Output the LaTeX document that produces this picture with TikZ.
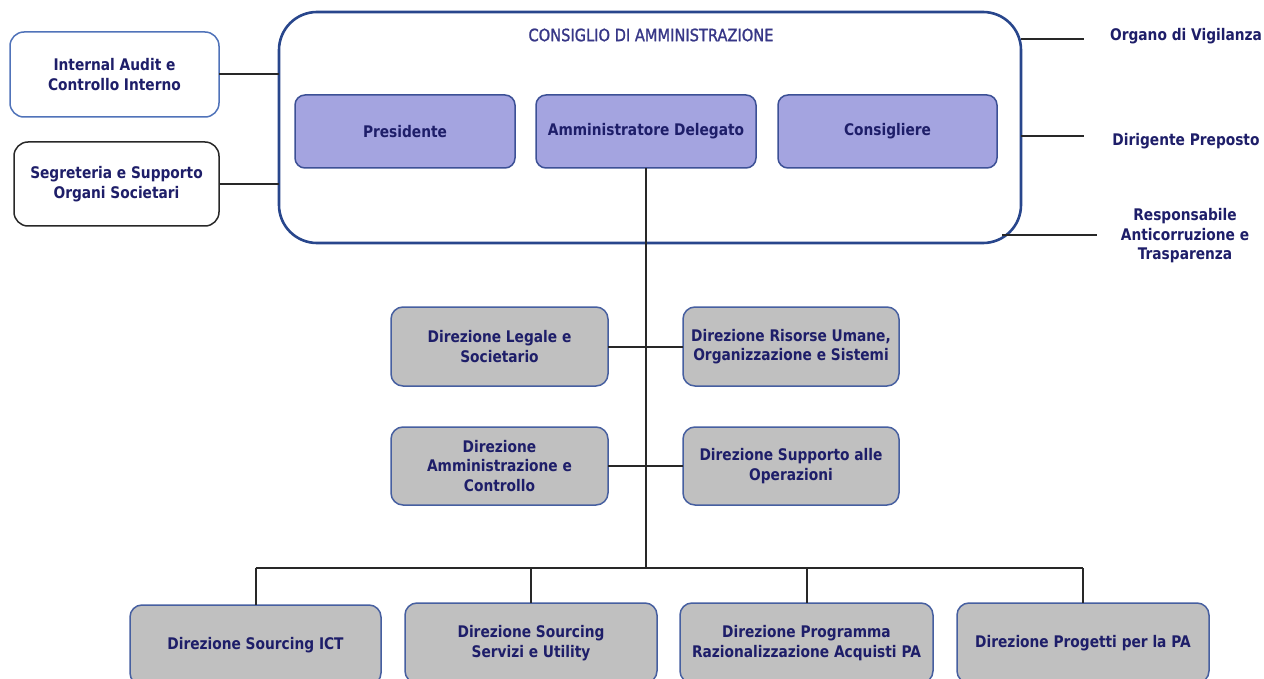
\documentclass[tikz,border=0pt]{standalone}
\usepackage{fontspec}
\setmainfont{DejaVu Sans}[FakeStretch=0.86]
\newfontfamily\titlefont{DejaVu Sans}[FakeStretch=0.86,FakeBold=1.2]
\definecolor{txt}{RGB}{30,30,105}
\definecolor{ttl}{RGB}{55,55,135}
\definecolor{pfill}{RGB}{164,164,224}
\definecolor{pdraw}{RGB}{60,80,150}
\definecolor{gfill}{RGB}{192,192,192}
\definecolor{gdraw}{RGB}{70,95,160}
\definecolor{frm}{RGB}{40,70,140}
\definecolor{adraw}{RGB}{80,115,185}
\definecolor{sdraw}{RGB}{40,40,40}
\definecolor{lin}{RGB}{40,40,40}
\begin{document}
\begin{tikzpicture}[x=1pt,y=-1pt,
  every node/.style={inner sep=0pt,outer sep=0pt,text=txt,align=center,
    font=\bfseries\fontsize{16}{19.5}\selectfont},
  frame/.style={draw=frm,line width=2.6pt,rounded corners=38pt,fill=white},
  purplebox/.style={draw=pdraw,line width=1.5pt,fill=pfill,rounded corners=10pt,minimum height=73pt},
  greybox/.style={draw=gdraw,line width=1.5pt,fill=gfill,rounded corners=12pt},
  auditbox/.style={draw=adraw,line width=1.5pt,fill=white,rounded corners=14pt},
  segbox/.style={draw=sdraw,line width=1.5pt,fill=white,rounded corners=14pt},
  lbl/.style={},
  titletxt/.style={text=ttl,font=\titlefont\fontsize{17}{18}\selectfont},
  conn/.style={draw=lin,line width=2pt}]
\useasboundingbox (0,0) rectangle (1264,679);
\clip (0,0) rectangle (1264,679);
\fill[white] (0,0) rectangle (1264,679);

% main frame
\node[frame,minimum width=742pt,minimum height=231pt] (cda) at (650,127.5) {};
\node[titletxt] (title) at (651,35) {CONSIGLIO DI AMMINISTRAZIONE};
\node[purplebox,minimum width=220pt] (pres) at (405,131.5) {Presidente};
\node[purplebox,minimum width=220pt] (ad) at (646,131.5) {Amministratore Delegato};
\node[purplebox,minimum width=219pt] (cons) at (887.5,131.5) {Consigliere};

% left side boxes
\node[auditbox,minimum width=209pt,minimum height=85pt] (audit) at (114.5,74.5) {Internal Audit e\\Controllo Interno};
\node[segbox,minimum width=205pt,minimum height=84pt] (seg) at (116.5,184) {Segreteria e Supporto\\Organi Societari};
\draw[conn] (audit.east) -- (audit.east -| cda.west);
\draw[conn] (seg.east) -- (seg.east -| cda.west);

% right side labels
\coordinate (ovend) at (1084,39);
\coordinate (dpend) at (1084,136);
\coordinate (rastart) at (1002,235);
\coordinate (raend) at (1097,235);
\node[lbl] (ov) at (1186,36) {Organo di Vigilanza};
\node[lbl] (dp) at (1186,141) {Dirigente Preposto};
\node[lbl] (ra) at (1185,236) {Responsabile\\Anticorruzione e\\Trasparenza};
\draw[conn] (ovend -| cda.east) -- (ovend);
\draw[conn] (dpend -| cda.east) -- (dpend);
\draw[conn] (rastart) -- (raend);

% middle boxes
\node[greybox,minimum width=217pt,minimum height=79pt] (leg) at (499.5,346.5) {Direzione Legale e\\Societario};
\node[greybox,minimum width=216pt,minimum height=79pt] (ris) at (791,346.5) {Direzione Risorse Umane,\\Organizzazione e Sistemi};
\node[greybox,minimum width=217pt,minimum height=78pt] (amm) at (499.5,466) {Direzione\\Amministrazione e\\Controllo};
\node[greybox,minimum width=216pt,minimum height=78pt] (sup) at (791,466) {Direzione Supporto alle\\Operazioni};

% bottom boxes
\node[greybox,minimum width=251pt,minimum height=80pt] (ict) at (255.5,645) {Direzione Sourcing ICT};
\node[greybox,minimum width=252pt,minimum height=80pt] (ser) at (531,643) {Direzione Sourcing\\Servizi e Utility};
\node[greybox,minimum width=253pt,minimum height=80pt] (prg) at (806.5,643) {Direzione Programma\\Razionalizzazione Acquisti PA};
\node[greybox,minimum width=252pt,minimum height=80pt] (pro) at (1083,643) {Direzione Progetti per la PA};

% trunk and bus
\coordinate (bus) at (646,568);
\draw[conn] (ad.south) -- (ad.south |- bus);
\draw[conn] (leg.east) -- (ris.west);
\draw[conn] (amm.east) -- (sup.west);
\draw[conn] (ict.north |- bus) -- (pro.north |- bus);
\draw[conn] (ict.north |- bus) -- (ict.north);
\draw[conn] (ser.north |- bus) -- (ser.north);
\draw[conn] (prg.north |- bus) -- (prg.north);
\draw[conn] (pro.north |- bus) -- (pro.north);
\end{tikzpicture}
\end{document}
